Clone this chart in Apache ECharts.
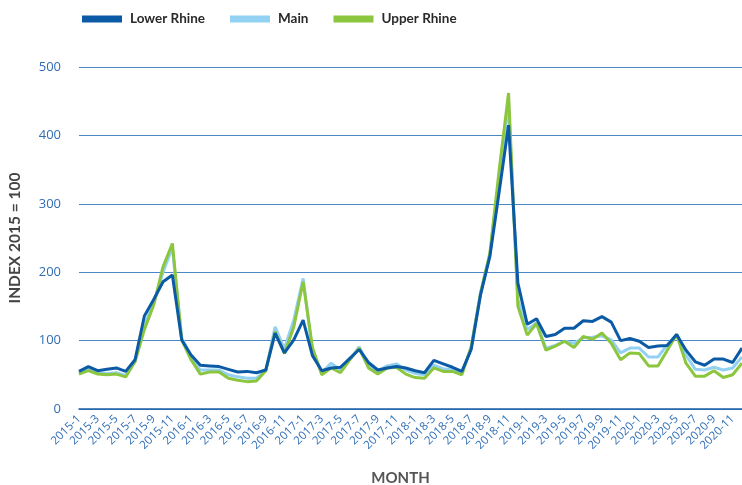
<!DOCTYPE html>
<html>
<head>
<meta charset="utf-8">
<script src="https://cdn.jsdelivr.net/npm/echarts@6/dist/echarts.min.js"></script>
<style>html,body{margin:0;padding:0;background:#fff;}#c{width:742px;height:485px;}</style>
</head>
<body>
<div id="c"></div>
<script>
const years = [2015, 2016, 2017, 2018, 2019, 2020];
const months = [];
years.forEach(y => { for (let m = 1; m <= 12; m++) months.push(y + '-' + m); });

const lowerRhine = [55,62,56,58,60,55,72,136,160,186,196,101,79,64,63,62,58,54,55,53,57,111,82,101,
  130,78,56,60,61,74,87,68,57,60,62,60,56,53,71,66,61,55,87,167,223,318,415,184,
  124,132,106,109,118,118,129,128,135,127,100,103,99,90,92,93,109,86,69,64,73,73,68,89];
const main = [52,58,53,52,53,49,70,122,155,200,236,104,76,57,57,57,50,47,45,45,56,120,88,130,
  191,85,53,67,57,72,91,64,55,63,66,57,52,50,64,59,57,52,90,170,226,340,445,160,
  116,126,89,93,99,96,104,105,107,101,82,89,89,76,76,94,109,79,58,57,61,57,60,76];
const upperRhine = [51,56,51,50,51,47,69,116,152,208,242,101,72,51,54,54,45,42,40,41,56,113,81,120,
  186,90,50,60,53,72,89,60,51,60,61,51,46,45,60,55,55,50,91,169,228,350,462,150,
  108,125,86,92,99,90,106,102,111,96,72,82,81,63,63,86,109,67,48,48,56,46,50,67];

const yTicks = [0, 100, 200, 300, 400, 500];

const chart = echarts.init(document.getElementById('c'));
const blueText = '#2f6db5';
chart.setOption({
  animation: false,
  grid: { left: 79, right: 0, top: 67, bottom: 76, containLabel: false, outerBoundsMode: 'none' },
  legend: {
    top: 7, left: 77, itemWidth: 40, itemHeight: 7, itemGap: 25,
    icon: 'rect',
    data: ['Lower Rhine', 'Main', 'Upper Rhine'],
    textStyle: { fontFamily: 'Lato', fontWeight: 'bold', fontSize: 13.5, color: '#2a2a2a', padding: [0,0,0,3] }
  },
  xAxis: {
    type: 'category', data: months, boundaryGap: false,
    name: 'MONTH', nameLocation: 'middle', nameGap: 62,
    nameTextStyle: { fontFamily: 'Lato', fontWeight: 'bold', fontSize: 15, color: '#555', padding: [0, 20, 0, 0] },
    axisLine: { show: true, lineStyle: { color: '#1e5fa6', width: 1.5 } },
    axisTick: { show: false },
    axisLabel: { interval: 1, rotate: 45, fontFamily: 'Open Sans', fontSize: 11.5, color: blueText, margin: 8 },
    splitLine: { show: false }
  },
  yAxis: {
    type: 'value', min: 0, max: 500, interval: 100,
    name: 'INDEX 2015 = 100', nameLocation: 'middle', nameGap: 56, nameRotate: 90,
    nameTextStyle: { fontFamily: 'Lato', fontWeight: 'bold', fontSize: 15.5, color: '#444' },
    axisLine: { show: false }, axisTick: { show: false },
    axisLabel: { fontFamily: 'Open Sans', fontSize: 13, color: blueText, margin: 18,
      formatter: v => yTicks.includes(v) ? String(v) : '' },
    splitLine: { lineStyle: { color: '#4a87c6', width: 1.2 } }
  },
  series: [
    { name: 'Lower Rhine', type: 'line', data: lowerRhine, symbol: 'none', z: 4,
      lineStyle: { color: '#0b5aa6', width: 3 }, itemStyle: { color: '#0b5aa6' } },
    { name: 'Main', type: 'line', data: main, symbol: 'none', z: 2,
      lineStyle: { color: '#93d1f3', width: 3 }, itemStyle: { color: '#93d1f3' } },
    { name: 'Upper Rhine', type: 'line', data: upperRhine, symbol: 'none', z: 3,
      lineStyle: { color: '#8cc63f', width: 3 }, itemStyle: { color: '#8cc63f' } }
  ]
});
</script>
</body>
</html>
